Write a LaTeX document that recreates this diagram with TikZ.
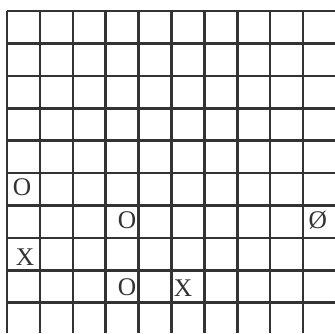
\documentclass[tikz,border=0pt]{standalone}
\usepackage{tikz}
\usepackage{fontspec}
\setmainfont{Liberation Serif}
\tikzset{gridline/.style={black!80, line width=2.2pt},
  sign/.style={inner sep=0pt, text=black!80, font=\fontsize{22}{24}\selectfont}}
\begin{document}
\begin{tikzpicture}[x=1cm, y=0.985cm]
\useasboundingbox[fill=white] (-0.213,0.34) rectangle (9.97,-9.94);
\foreach \j in {0,...,9}
  \draw[gridline] (0,-\j) -- (9.97,-\j);
\foreach \i in {0,...,9}
  \draw[gridline] (\i,0) -- (\i,-9.94);

\node[sign] (o1) at (0.46,-5.45) {O};
\node[sign] (o2) at (3.65,-6.45) {O};
\node[sign] (o3) at (9.45,-6.45) {Ø};
\node[sign] (x1) at (0.55,-7.6) {X};
\node[sign] (o4) at (3.65,-8.52) {O};
\node[sign] (x2) at (5.35,-8.55) {X};
\end{tikzpicture}
\end{document}
